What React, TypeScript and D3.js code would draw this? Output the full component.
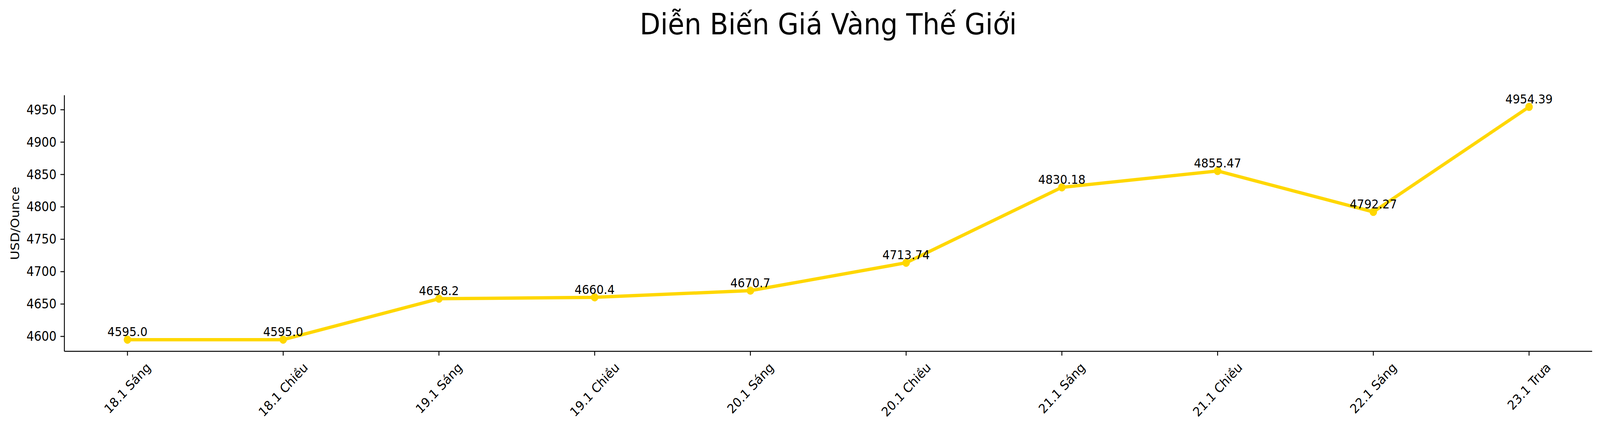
import { useEffect, useRef } from "react";
import * as d3 from "d3";

const TITLE = "Diễn Biến Giá Vàng Thế Giới";
const Y_LABEL = "USD/Ounce";
const CATEGORIES = [
  "18.1 Sáng",
  "18.1 Chiều",
  "19.1 Sáng",
  "19.1 Chiều",
  "20.1 Sáng",
  "20.1 Chiều",
  "21.1 Sáng",
  "21.1 Chiều",
  "22.1 Sáng",
  "23.1 Trưa",
];
const PRICES = [4595.0, 4595.0, 4658.2, 4660.4, 4670.7, 4713.74, 4830.18, 4855.47, 4792.27, 4954.39];
const Y_TICKS = [4600, 4650, 4700, 4750, 4800, 4850, 4900, 4950];

const W = 4473;
const H = 1099;
const FONT = "'DejaVu Sans', sans-serif";
const GOLD = "#FFD700";

function fmt(v: number): string {
  return Number.isInteger(v) ? v.toFixed(1) : String(v);
}

export default function App() {
  const svgRef = useRef<SVGSVGElement>(null);

  useEffect(() => {
    document.body.style.margin = "0";
    document.body.style.overflow = "hidden";
    const svgEl = svgRef.current;
    if (!svgEl) return;

    const margin = { top: 244, right: W - 4451, bottom: H - 900, left: 180 };
    const innerW = W - margin.left - margin.right;
    const innerH = H - margin.top - margin.bottom;

    // matplotlib-style 5% padding on both axes
    const n = PRICES.length;
    const x = d3
      .scaleLinear()
      .domain([-0.045 * (n - 1), (n - 1) * 1.045])
      .range([0, innerW]);
    const [lo, hi] = d3.extent(PRICES) as [number, number];
    const pad = (hi - lo) * 0.05;
    const y = d3
      .scaleLinear()
      .domain([lo - pad, hi + pad])
      .range([innerH, 0]);

    const root = d3.select(svgEl);
    root.selectAll("*").remove();
    root.append("rect").attr("width", W).attr("height", H).attr("fill", "#fff");

    root
      .append("text")
      .attr("x", margin.left + innerW / 2)
      .attr("y", 88)
      .attr("text-anchor", "middle")
      .attr("font-family", FONT)
      .attr("font-size", 75)
      .text(TITLE);

    const g = root.append("g").attr("transform", `translate(${margin.left},${margin.top})`);

    // y axis
    const yAxis = g.append("g");
    yAxis
      .append("line")
      .attr("x1", 0)
      .attr("x2", 0)
      .attr("y1", 0)
      .attr("y2", innerH)
      .attr("stroke", "#000")
      .attr("stroke-width", 2.5);
    Y_TICKS.forEach((t) => {
      yAxis
        .append("line")
        .attr("x1", -11)
        .attr("x2", 0)
        .attr("y1", y(t))
        .attr("y2", y(t))
        .attr("stroke", "#000")
        .attr("stroke-width", 2.5);
      yAxis
        .append("text")
        .attr("x", -22)
        .attr("y", y(t))
        .attr("text-anchor", "end")
        .attr("dominant-baseline", "central")
        .attr("font-family", FONT)
        .attr("font-size", 33)
        .text(String(t));
    });

    root
      .append("text")
      .attr("transform", `translate(53,${margin.top + innerH / 2}) rotate(-90)`)
      .attr("text-anchor", "middle")
      .attr("font-family", FONT)
      .attr("font-size", 33)
      .text(Y_LABEL);

    // x axis
    const xAxis = g.append("g").attr("transform", `translate(0,${innerH})`);
    xAxis
      .append("line")
      .attr("x1", 0)
      .attr("x2", innerW)
      .attr("stroke", "#000")
      .attr("stroke-width", 2.5);
    CATEGORIES.forEach((c, i) => {
      const px = x(i);
      xAxis
        .append("line")
        .attr("x1", px)
        .attr("x2", px)
        .attr("y1", 0)
        .attr("y2", 11)
        .attr("stroke", "#000")
        .attr("stroke-width", 2.5);
      const lbl = xAxis
        .append("text")
        .attr("text-anchor", "middle")
        .attr("dominant-baseline", "central")
        .attr("font-family", FONT)
        .attr("font-size", 33)
        .text(c);
      const bb = (lbl.node() as SVGTextElement).getBBox();
      const rotH = (bb.width + bb.height) / Math.SQRT2;
      lbl.attr("transform", `translate(${px},${22 + rotH / 2}) rotate(-45)`);
    });

    // line + markers
    const line = d3
      .line<number>()
      .x((_, i) => x(i))
      .y((d) => y(d));
    g.append("path")
      .datum(PRICES)
      .attr("d", line)
      .attr("fill", "none")
      .attr("stroke", GOLD)
      .attr("stroke-width", 8.5)
      .attr("stroke-linejoin", "round");
    g.selectAll("circle.pt")
      .data(PRICES)
      .join("circle")
      .attr("class", "pt")
      .attr("cx", (_, i) => x(i))
      .attr("cy", (d) => y(d))
      .attr("r", 10.5)
      .attr("fill", GOLD);

    g.selectAll("text.val")
      .data(PRICES)
      .join("text")
      .attr("class", "val")
      .attr("x", (_, i) => x(i))
      .attr("y", (d) => y(d) - 9)
      .attr("text-anchor", "middle")
      .attr("font-family", FONT)
      .attr("font-size", 32)
      .text((d) => fmt(d));
  }, []);

  return (
    <svg
      ref={svgRef}
      viewBox={`0 0 ${W} ${H}`}
      preserveAspectRatio="none"
      style={{ position: "absolute", left: 0, top: 0, width: "100vw", height: "100vh", display: "block" }}
    />
  );
}
